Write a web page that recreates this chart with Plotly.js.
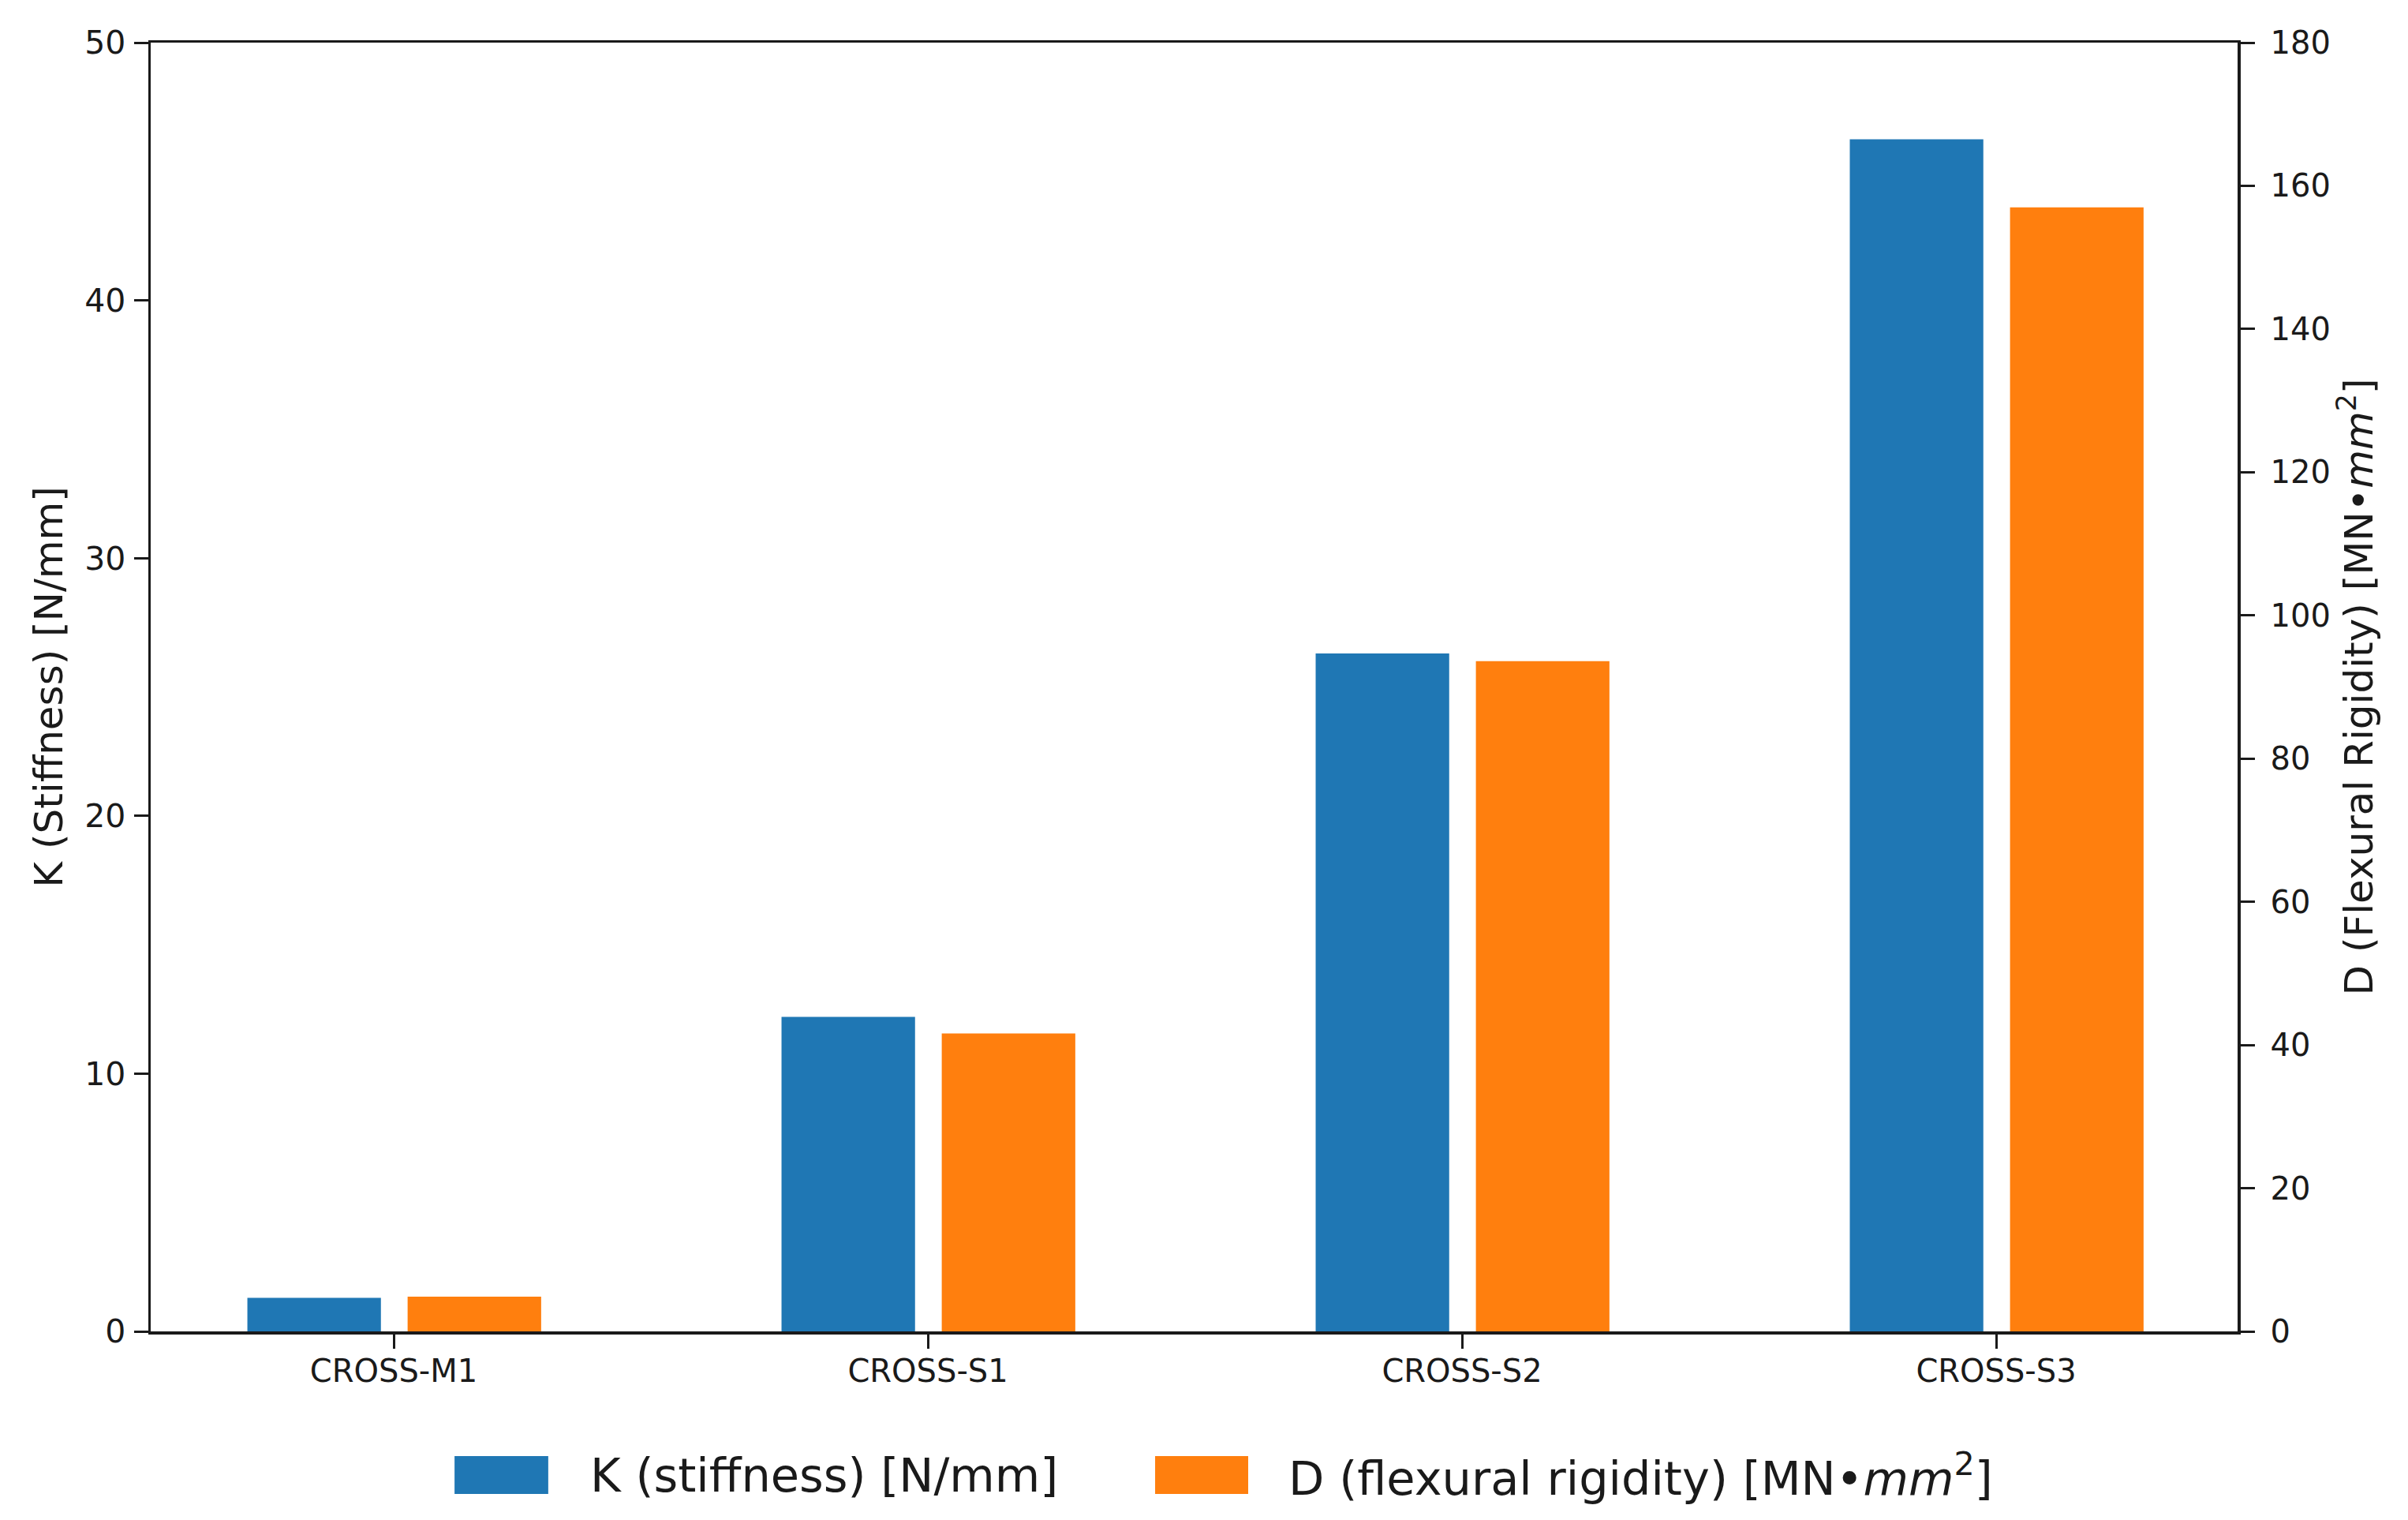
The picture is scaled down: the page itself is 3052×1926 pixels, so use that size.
<!DOCTYPE html>
<html>
<head>
<meta charset="utf-8">
<script src="https://cdn.plot.ly/plotly-3.0.1.min.js"></script>
<style>html,body{margin:0;padding:0;background:#fff;}#chart{width:3052px;height:1926px;}</style>
</head>
<body>
<div id="chart"></div>
<script>
const categories = ["CROSS-M1", "CROSS-S1", "CROSS-S2", "CROSS-S3"];
const stiffnessK = [1.3, 12.2, 26.3, 46.25];
const rigidityD = [4.85, 41.6, 93.6, 157.0];
const leftTicks = [0, 10, 20, 30, 40, 50];
const rightTicks = [0, 20, 40, 60, 80, 100, 120, 140, 160, 180];
const seriesNames = ["K (stiffness) [N/mm]", "D (flexural rigidity) [MN•<i>mm</i><sup>2</sup>]"];
const colors = ["#1f77b4", "#ff7f0e"];

const FONT = "DejaVu Sans, Liberation Sans, sans-serif";
const ink = "#1a1a1a";

const traces = [
  {type: "bar", x: categories, y: stiffnessK, name: seriesNames[0], yaxis: "y",
   marker: {color: colors[0], line: {width: 0}}, width: 0.25, offset: -0.274, showlegend: false},
  {type: "bar", x: categories, y: rigidityD, name: seriesNames[1], yaxis: "y2",
   marker: {color: colors[1], line: {width: 0}}, width: 0.25, offset: 0.026, showlegend: false}
];

const layout = {
  width: 3052, height: 1926,
  margin: {l: 191, r: 216, t: 54, b: 239},
  paper_bgcolor: "#fff", plot_bgcolor: "#fff",
  font: {family: FONT, color: ink},
  barmode: "overlay",
  showlegend: false,
  xaxis: {
    type: "category", range: [-0.455, 3.452],
    showline: true, linecolor: ink, linewidth: 3.5, mirror: true,
    ticks: "outside", ticklen: 18, tickwidth: 3, tickcolor: ink,
    tickfont: {size: 40, family: FONT, color: ink}, ticklabelstandoff: -6,
    showgrid: false, zeroline: false
  },
  yaxis: {
    range: [0, 50], tickvals: leftTicks, ticktext: leftTicks.map(String),
    showline: true, linecolor: ink, linewidth: 3.5,
    ticks: "outside", ticklen: 18, tickwidth: 3, tickcolor: ink,
    tickfont: {size: 41, family: FONT, color: ink}, ticklabelstandoff: 2,
    showgrid: false, zeroline: false,
    title: {text: "K (Stiffness) [N/mm]", font: {size: 50, family: FONT, color: ink}, standoff: 12}
  },
  yaxis2: {
    range: [0, 180], tickvals: rightTicks, ticktext: rightTicks.map(String),
    overlaying: "y", side: "right", anchor: "x",
    showline: true, linecolor: ink, linewidth: 3.5,
    ticks: "outside", ticklen: 18, tickwidth: 3, tickcolor: ink,
    tickfont: {size: 40, family: FONT, color: ink}, ticklabelstandoff: 12,
    showgrid: false, zeroline: false,
    title: {text: "D (Flexural Rigidity) [MN•<i>mm</i><sup>2</sup>]", font: {size: 50, family: FONT, color: ink}, standoff: 18}
  },
  shapes: [
    {type: "rect", xref: "paper", yref: "paper", x0: 0.1456, x1: 0.1905, y0: -0.1261, y1: -0.0968,
     fillcolor: colors[0], line: {width: 0}},
    {type: "rect", xref: "paper", yref: "paper", x0: 0.4813, x1: 0.5259, y0: -0.1261, y1: -0.0968,
     fillcolor: colors[1], line: {width: 0}}
  ],
  annotations: [
    {xref: "paper", yref: "paper", x: 0.2098, y: -0.1115, xanchor: "left", yanchor: "middle",
     text: seriesNames[0], showarrow: false, font: {size: 59, family: FONT, color: ink}},
    {xref: "paper", yref: "paper", x: 0.5444, y: -0.1115, xanchor: "left", yanchor: "middle",
     text: seriesNames[1], showarrow: false, font: {size: 59, family: FONT, color: ink}}
  ]
};

Plotly.newPlot("chart", traces, layout, {displayModeBar: false, staticPlot: true});
</script>
</body>
</html>
